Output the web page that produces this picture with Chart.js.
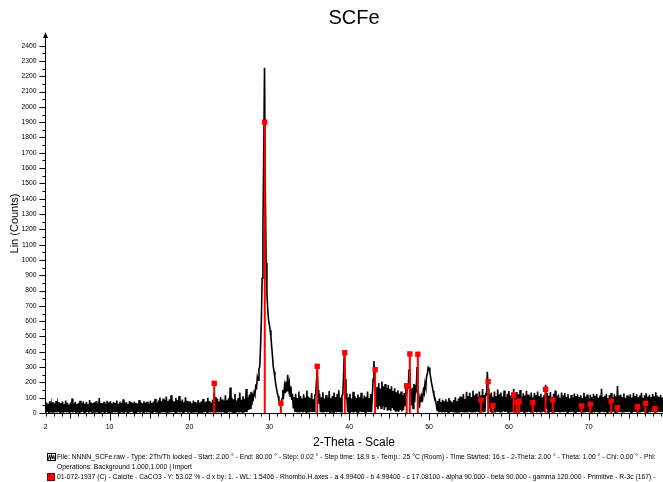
<!DOCTYPE html>
<html>
<head>
<meta charset="utf-8">
<script src="https://cdn.jsdelivr.net/npm/chart.js@4.4.0/dist/chart.umd.min.js"></script>
<style>
  body { margin: 0; background: #fff; }
  #wrap { position: relative; width: 663px; height: 482px; font-family: 'Liberation Sans', Arial, sans-serif; }
  .leg { position: absolute; left: 57px; font-size: 6.75px; line-height: 10px; white-space: nowrap; color: #000; }
  .ico { position: absolute; left: 47px; }
</style>
</head>
<body>
<div id="wrap">
  <canvas id="xrd" width="663" height="482"></canvas>
  <svg class="ico" style="top:453px" width="9" height="8"><rect x="0.5" y="0.5" width="8" height="7" fill="#fff" stroke="#000"/><polyline points="1.5,6.5 2.5,2 3.5,6.5 4.5,1.5 5.5,6 6.5,2.5 7.5,6.5" fill="none" stroke="#000"/></svg>
  <div class="leg" style="top:452px">File: NNNN_SCFe.raw - Type: 2Th/Th locked - Start: 2.00 ° - End: 80.00 ° - Step: 0.02 ° - Step time: 18.9 s - Temp.: 25 °C (Room) - Time Started: 16 s - 2-Theta: 2.00 ° - Theta: 1.00 ° - Chi: 0.00 ° - Phi:</div>
  <div class="leg" style="top:462px">Operations: Background 1.000,1.000 | Import</div>
  <svg class="ico" style="top:473px" width="8" height="8"><rect x="0.5" y="0.5" width="7" height="7" fill="#ff0000" stroke="#700"/></svg>
  <div class="leg" style="top:472px">01-072-1937 (C) - Calcite - CaCO3 - Y: 53.02 % - d x by: 1. - WL: 1.5406 - Rhombo.H.axes - a 4.99400 - b 4.99400 - c 17.08100 - alpha 90.000 - beta 90.000 - gamma 120.000 - Primitive - R-3c (167) -</div>
</div>
<script>
const FONT = "'Liberation Sans', Arial, sans-serif";

// scan: 2-Theta from 2.0, read every 0.1 deg
const scanStart = 2.0;
const scanStep = 0.1;

// 2.0 - 19.9
const countsA = [
  3,68,6,60,1,76,4,54,7,72,
  2,64,5,78,3,56,7,70,0,63,
  5,74,2,59,6,81,3,66,8,55,
  1,69,5,94,4,62,7,73,2,58,
  6,67,1,80,4,64,8,75,2,60,
  3,72,7,57,2,85,5,68,3,63,
  6,70,2,77,5,61,1,98,4,66,
  7,64,3,73,1,59,6,79,4,68,
  2,76,5,62,7,71,3,65,5,81,
  4,60,2,74,6,67,3,89,1,63,
  7,72,4,58,2,78,5,69,8,64,
  1,75,5,66,3,61,6,84,2,70,
  5,63,3,77,7,68,2,73,5,60,
  3,79,6,65,1,74,7,92,4,67,
  2,82,5,101,6,76,3,94,6,85,
  4,107,2,78,6,90,3,116,5,80,
  7,74,4,98,2,83,5,111,3,76,
  6,88,2,70,5,102,7,79,2,72
];
// 20.0 - 39.9
const countsB = [
  5,77,3,64,6,82,2,71,4,66,
  3,85,6,68,4,76,1,91,5,70,
  7,74,2,100,5,78,3,69,6,86,
  4,136,8,104,6,94,3,76,5,105,
  3,88,6,80,2,116,5,84,7,96,
  4,166,6,101,2,90,6,124,4,82,
  6,98,3,134,5,86,7,110,3,92,
  6,156,7,102,20,121,30,138,50,114,
  95,135,120,175,165,235,215,290,300,430,
  600,880,1200,1700,2255,1450,980,780,680,610,
  580,540,500,430,370,300,270,230,190,160,
  130,110,85,65,58,72,95,150,120,175,
  130,205,140,250,160,195,110,175,85,125,
  30,104,8,126,5,98,10,140,4,111,
  7,94,3,122,9,101,5,146,6,108,
  4,98,8,131,6,90,10,116,120,200,
  290,150,60,124,6,102,8,136,4,94,
  7,118,5,101,9,143,3,96,8,110,
  6,134,8,104,4,124,7,148,5,101,
  8,116,120,250,410,220,90,131,6,103
];
// 40.0 - 59.9
const countsC = [
  4,126,7,94,5,138,3,110,8,99,
  6,121,4,103,8,132,5,95,7,114,
  3,105,9,140,6,98,7,124,5,111,
  220,340,230,130,40,170,25,195,45,160,
  30,205,45,175,20,190,38,165,15,183,
  25,156,12,174,32,144,18,161,8,136,
  15,148,6,126,20,141,10,118,18,131,
  50,195,120,155,170,285,190,125,50,165,
  30,190,70,165,150,300,180,95,35,100,
  75,110,95,150,130,195,170,240,260,300,
  295,265,235,200,175,145,120,105,85,60,
  20,78,4,94,7,71,3,86,6,76,
  4,90,7,74,2,98,5,81,8,69,
  6,85,3,102,7,76,4,94,2,108,
  7,101,4,124,8,92,5,138,3,110,
  7,132,5,104,9,146,6,116,4,127,
  8,102,5,141,7,114,10,156,4,118,
  8,124,120,270,160,30,121,7,134,5,
  104,6,140,4,111,9,154,6,122,8,
  134,4,108,10,147,6,102,8,125,5
];
// 60.0 - 80.0
const countsD = [
  143,7,114,4,131,9,156,5,118,7,
  137,3,123,8,150,6,105,8,128,4,
  114,6,145,5,121,9,107,4,134,7,
  103,5,130,7,116,3,141,6,109,8,
  125,4,102,9,118,7,185,30,131,5,
  112,7,137,5,104,9,126,4,146,6,
  108,6,121,8,99,4,133,7,114,5,
  130,8,105,4,124,7,96,5,118,8,
  101,4,127,6,110,9,122,5,104,7,
  116,5,98,8,132,3,107,7,121,6,
  94,8,119,5,103,9,126,4,111,7,
  124,5,100,7,115,6,158,8,105,4,
  112,7,125,4,97,9,117,6,130,5,
  102,8,123,3,109,7,176,6,114,8,
  120,4,104,9,127,5,99,7,116,5,
  107,8,122,4,101,7,130,6,111,6,
  123,4,105,9,114,5,132,7,100,8,
  116,6,128,5,106,8,119,4,102,9,
  124,5,109,7,135,3,113,8,104,6,
  118,7,101,5,126,7,110,4,123,8,
  60
];

// 01-072-1937 Calcite stick pattern
const calcitePos = [23.1, 29.43, 31.45, 36.0, 39.45, 43.25, 47.2, 47.6, 48.6, 56.5, 57.4, 58.0, 60.6, 61.0, 61.3, 63.0, 64.6, 65.5, 69.1, 70.2, 72.8, 73.6, 76.1, 77.1, 78.3];
const calciteInt = [194, 1900, 63, 305, 394, 283, 178, 386, 384, 85, 205, 48, 118, 70, 78, 67, 155, 85, 46, 57, 78, 35, 41, 63, 28];

const yTickValues = [0,100,200,300,400,500,600,700,800,900,1000,1100,1200,1300,1400,1500,1600,1700,1800,1900,2000,2100,2200,2300,2400];
const xTickValues = [2,10,20,30,40,50,60,70];

const counts = countsA.concat(countsB, countsC, countsD);
const scanPoints = counts.map((c, i) => ({ x: +(scanStart + i * scanStep).toFixed(1), y: c }));

const stickPoints = [];
calcitePos.forEach((p, i) => {
  stickPoints.push({ x: p, y: 0 }, { x: p, y: calciteInt[i] }, { x: p, y: null });
});

// axis lines, minor/major tick marks and the arrow on the y axis
const axisMarks = {
  id: 'axisMarks',
  afterDraw(chart) {
    const { ctx, chartArea: a, scales: { x, y } } = chart;
    const left = Math.round(a.left) + 0.5;
    const bottom = Math.round(a.bottom) + 0.5;
    ctx.save();
    ctx.strokeStyle = '#000';
    ctx.fillStyle = '#000';
    ctx.lineWidth = 1;
    ctx.beginPath();
    ctx.moveTo(left, bottom);
    ctx.lineTo(left, a.top);
    ctx.moveTo(left, bottom);
    ctx.lineTo(a.right, bottom);
    for (let v = 0; v <= 2400; v += 50) {
      const py = Math.round(y.getPixelForValue(v)) + 0.5;
      ctx.moveTo(left - (v % 100 ? 3 : 6), py);
      ctx.lineTo(left, py);
    }
    for (let t = 2; t <= 79; t++) {
      const px = Math.round(x.getPixelForValue(t)) + 0.5;
      const len = t % 10 === 0 ? 7 : (t % 5 === 0 ? 5 : 3);
      ctx.moveTo(px, bottom);
      ctx.lineTo(px, bottom + len);
    }
    ctx.stroke();
    ctx.beginPath();
    ctx.moveTo(left, a.top - 2);
    ctx.lineTo(left - 2.5, a.top + 4);
    ctx.lineTo(left + 2.5, a.top + 4);
    ctx.closePath();
    ctx.fill();
    ctx.restore();
  }
};

new Chart(document.getElementById('xrd'), {
  type: 'line',
  data: {
    datasets: [
      {
        label: 'Calcite',
        data: stickPoints,
        borderColor: '#ff0000',
        backgroundColor: '#ff0000',
        borderWidth: 2,
        pointStyle: 'rect',
        pointBorderWidth: 0,
        pointRadius: ctx => (ctx.dataIndex % 3 === 1 ? 3.8 : 0),
        spanGaps: false
      },
      {
        label: 'SCFe',
        data: scanPoints,
        borderColor: '#000',
        borderWidth: 1.6,
        pointRadius: 0,
        tension: 0
      }
    ]
  },
  options: {
    responsive: false,
    animation: false,
    devicePixelRatio: 1,
    layout: { padding: { left: 0, right: 0, top: 0, bottom: 32 } },
    plugins: {
      legend: { display: false },
      tooltip: { enabled: false },
      title: {
        display: true,
        text: 'SCFe',
        fullSize: false,
        color: '#000',
        font: { family: FONT, size: 20, weight: 'normal' },
        padding: { top: 6, bottom: 4 }
      }
    },
    scales: {
      x: {
        type: 'linear',
        min: 1.91,
        max: 79.3,
        grid: { display: false, drawTicks: false },
        border: { display: false },
        afterBuildTicks: s => { s.ticks = xTickValues.map(v => ({ value: v })); },
        ticks: { color: '#000', font: { family: FONT, size: 7 }, padding: 10, maxRotation: 0, autoSkip: false, callback: v => String(v) },
        title: { display: true, text: '2-Theta - Scale', color: '#000', font: { family: FONT, size: 12 }, padding: { top: 0, bottom: 0 } },
        afterFit: s => { s.height = 37; }
      },
      y: {
        type: 'linear',
        min: 0,
        max: 2476,
        grid: { display: false, drawTicks: false },
        border: { display: false },
        afterBuildTicks: s => { s.ticks = yTickValues.map(v => ({ value: v })); },
        ticks: { color: '#000', font: { family: FONT, size: 6.8 }, padding: 8.5, autoSkip: false, callback: v => String(v) },
        title: { display: true, text: 'Lin (Counts)', color: '#000', font: { family: FONT, size: 11 }, padding: { top: 8.4, bottom: 0 } },
        afterFit: s => { s.width = 45; }
      }
    }
  },
  plugins: [axisMarks]
});
</script>
</body>
</html>
